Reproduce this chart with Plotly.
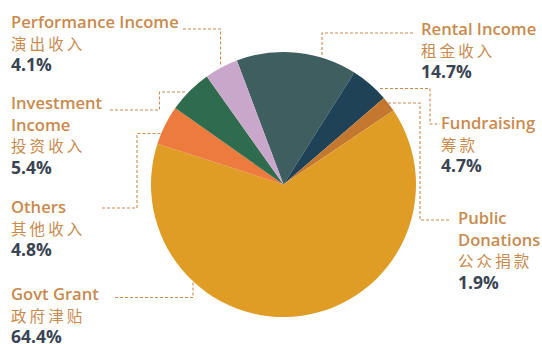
import plotly.graph_objects as go

# ---- data ----
categories_en = ["Rental Income", "Fundraising", "Public\nDonations", "Govt Grant",
                 "Others", "Investment\nIncome", "Performance Income"]
categories_zh = ["租金收入", "筹款", "公众捐款", "政府津贴", "其他收入", "投资收入", "演出收入"]
shares = [14.7, 4.7, 1.9, 64.4, 4.8, 5.4, 4.1]
colors = ["#3f5e5f", "#1f4257", "#c4782f", "#df9d25", "#ec7b3d", "#2f6b4d", "#c9a7cb"]

W, H = 542, 344
cx, cy, R = 283.5, 184.5, 132.5

fig = go.Figure(go.Pie(
    values=shares,
    labels=[c.replace("\n", " ") for c in categories_en],
    marker=dict(colors=colors, line=dict(width=0)),
    sort=False, direction="clockwise", rotation=-20.6,
    textinfo="none", hoverinfo="label+percent", showlegend=False,
    domain=dict(x=[(cx - R) / W, (cx + R) / W], y=[(H - cy - R) / H, (H - cy + R) / H]),
))

# label layout: (left x, first line center y) in pixels
label_pos = [(420, 28), (440, 122), (457, 218), (10, 293), (10, 206), (10, 103), (10, 21)]
# leader paths in pixels
leaders = [
    [(413, 33), (322, 33), (322, 57)],
    [(380, 88.5), (430, 88.5), (430, 124), (440, 124)],
    [(388, 103), (420, 103), (420, 220), (450, 220)],
    [(115, 297.5), (193, 297.5), (193, 282)],
    [(102, 208), (137, 208), (137, 133.5), (161, 133.5)],
    [(110, 110), (159.5, 110), (159.5, 92), (187, 92)],
    [(183, 29), (220.5, 29), (220.5, 65)],
]

ORANGE = "#c98a4e"
DARK = "#3a4452"
BASE = 16.6
LH = BASE * 1.3

def px(x):
    return x / W

def py(y):
    return 1 - y / H

annotations = []
for en, zh, v, (lx, ly) in zip(categories_en, categories_zh, shares, label_pos):
    lines = [f'<span style="font-weight:600">{t}</span>' for t in en.split("\n")]
    lines.append('<span style="font-family:\'Noto Sans CJK SC\';font-weight:400;font-size:15.5px">'
                 + "\u2009".join(zh) + "</span>")
    lines.append(f'<span style="font-weight:700;font-size:17.5px;fill:{DARK}">{v}%</span>')
    n = len(lines)
    annotations.append(dict(
        x=px(lx), y=py(ly + (n - 1) * LH / 2), xref="paper", yref="paper",
        text="<br>".join(lines), showarrow=False, xanchor="left", yanchor="middle",
        align="left", borderpad=0,
        font=dict(family="Open Sans", size=BASE, color=ORANGE),
    ))

shapes = []
for path in leaders:
    d = "M " + " L ".join(f"{px(x)},{py(y)}" for x, y in path)
    shapes.append(dict(type="path", path=d, xref="paper", yref="paper",
                       line=dict(color=ORANGE, width=1.1, dash="3px,2px")))

fig.update_layout(
    width=W, height=H, margin=dict(l=0, r=0, t=0, b=0),
    paper_bgcolor="white", plot_bgcolor="white",
    annotations=annotations, shapes=shapes,
)

fig.write_html("out.html")
